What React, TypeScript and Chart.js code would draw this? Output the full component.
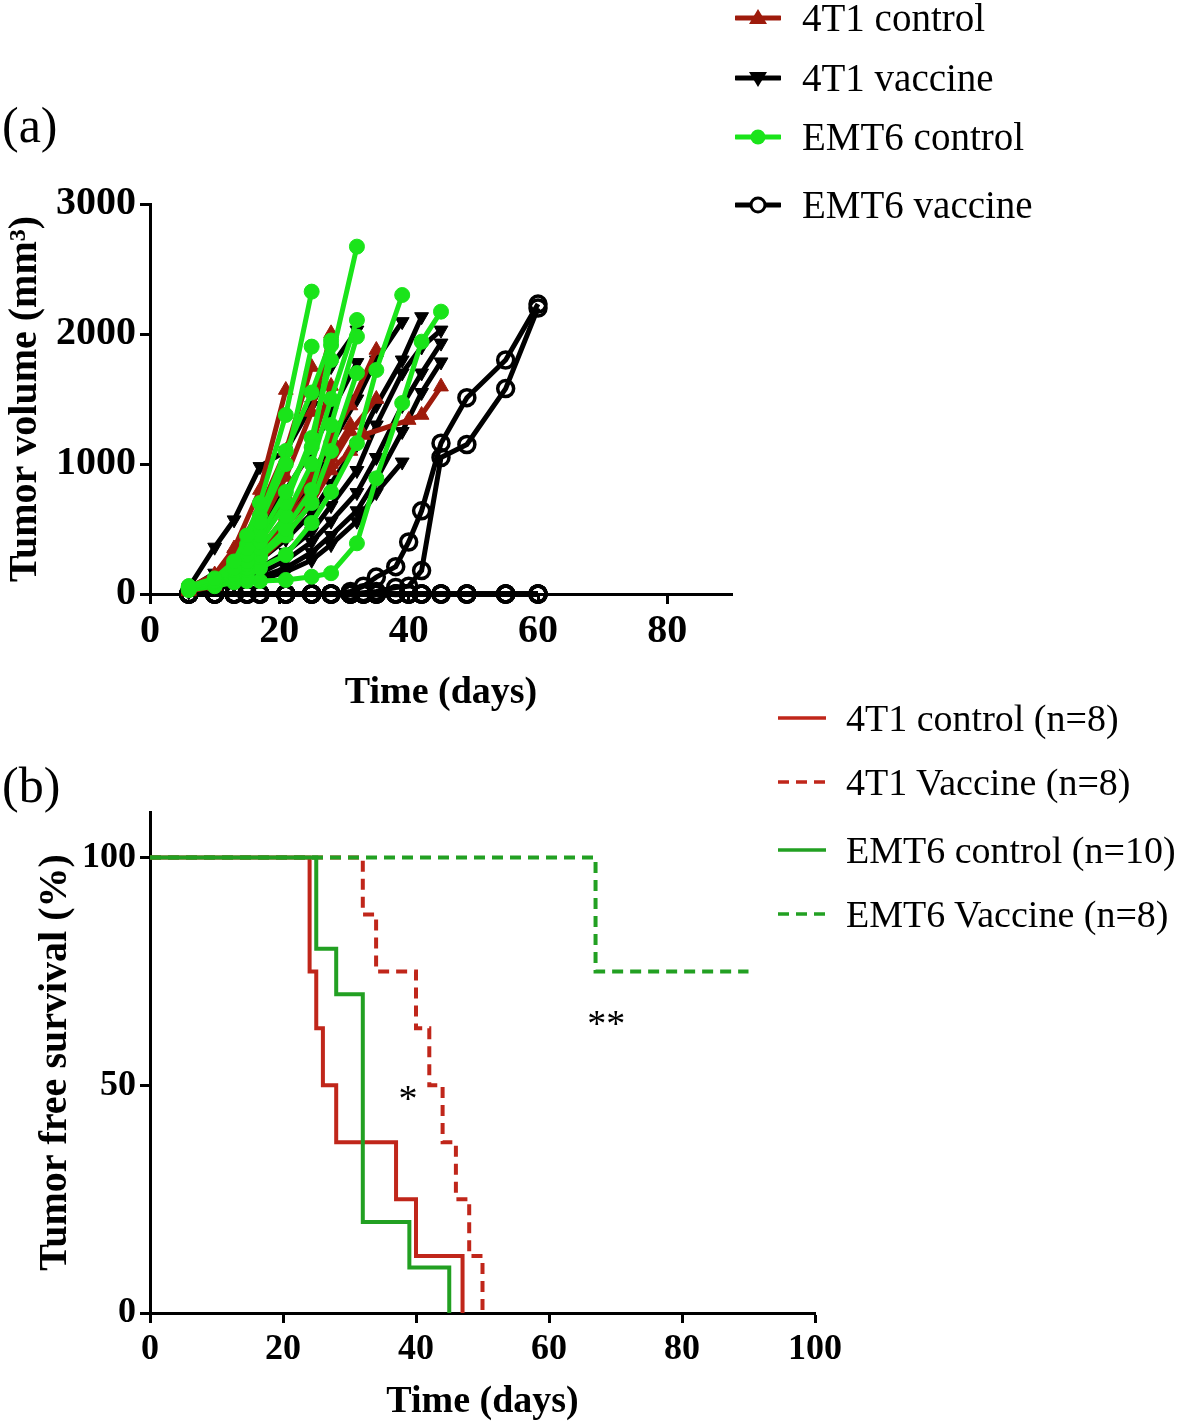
import React, { useEffect, useRef } from 'react';
import { Chart, registerables } from 'chart.js';

Chart.register(...registerables);

const FONT = '"Liberation Serif", "Times New Roman", Times, serif';

type Pt = [number, number];

// ---------- Panel (a): individual tumour growth curves (day, mm^3) ----------
const control4T1: Pt[][] = [
  [[6, 50], [10, 150], [13, 350], [17, 800], [21, 1569]],
  [[6, 40], [10, 130], [13, 300], [17, 650], [21, 1100], [25, 1746]],
  [[6, 40], [10, 110], [13, 250], [17, 520], [21, 900], [25, 1400], [28, 2005]],
  [[6, 30], [10, 90], [13, 200], [17, 420], [21, 750], [25, 1150], [28, 1600]],
  [[6, 30], [10, 80], [13, 180], [17, 350], [21, 600], [25, 900], [28, 1200], [31, 1450], [35, 1877]],
  [[6, 30], [10, 80], [13, 160], [17, 320], [21, 560], [25, 800], [28, 1050], [31, 1300]],
  [[6, 20], [10, 60], [13, 130], [17, 260], [21, 450], [25, 700], [28, 950], [31, 1100], [33, 1223], [40, 1338], [42, 1377], [45, 1595]],
  [[6, 20], [10, 70], [13, 150], [17, 300], [21, 520], [25, 750], [28, 1000], [31, 1250], [35, 1500]],
];

const vaccine4T1: Pt[][] = [
  [[6, 50], [10, 360], [13, 570], [17, 980], [21, 1100], [25, 1450], [28, 1750], [32, 2030]],
  [[6, 40], [10, 160], [13, 300], [17, 520], [21, 800], [25, 1100], [28, 1400], [32, 1780]],
  [[6, 30], [10, 100], [13, 200], [17, 350], [21, 560], [25, 850], [28, 1150], [32, 1500], [35, 1800], [39, 2095]],
  [[6, 30], [10, 80], [13, 150], [17, 260], [21, 420], [25, 620], [28, 850], [32, 1150], [35, 1450], [39, 1800], [42, 2133]],
  [[6, 20], [10, 60], [13, 120], [17, 200], [21, 320], [25, 480], [28, 680], [32, 950], [35, 1300], [39, 1700], [42, 1900], [45, 2030]],
  [[6, 20], [10, 50], [13, 100], [17, 160], [21, 260], [25, 400], [28, 560], [32, 780], [35, 1050], [39, 1450], [42, 1700], [45, 1930]],
  [[6, 20], [10, 40], [13, 80], [17, 130], [21, 200], [25, 320], [28, 450], [32, 640], [35, 880], [39, 1250], [42, 1550], [45, 1785]],
  [[6, 20], [10, 40], [13, 70], [17, 110], [21, 170], [25, 260], [28, 380], [32, 560], [35, 780], [39, 1015]],
];

const controlEMT6: Pt[][] = [
  [[6, 60], [10, 120], [13, 250], [15, 450], [17, 700], [21, 1377], [25, 2326]],
  [[6, 50], [10, 100], [13, 200], [15, 350], [17, 550], [21, 1000], [25, 1903]],
  [[6, 50], [10, 90], [13, 180], [15, 300], [17, 450], [21, 785], [25, 1130], [28, 1915]],
  [[6, 40], [10, 80], [13, 150], [15, 250], [17, 400], [21, 700], [25, 1200], [28, 1800], [32, 2672]],
  [[6, 40], [10, 80], [13, 140], [15, 230], [17, 350], [21, 600], [25, 1000], [28, 1500], [32, 2108]],
  [[6, 40], [10, 70], [13, 120], [15, 200], [17, 300], [21, 500], [25, 800], [28, 1300], [32, 1980]],
  [[6, 50], [10, 100], [13, 220], [15, 380], [17, 600], [21, 1100], [25, 1550], [28, 1950]],
  [[6, 40], [10, 70], [13, 110], [15, 180], [17, 280], [21, 450], [25, 700], [28, 1100], [32, 1700]],
  [[6, 30], [10, 60], [13, 90], [15, 130], [17, 200], [21, 300], [25, 546], [28, 785], [32, 1160], [35, 1723], [39, 2300]],
  [[6, 60], [10, 80], [13, 100], [15, 100], [17, 100], [21, 108], [25, 133], [28, 160], [32, 390], [35, 890], [39, 1469], [42, 1941], [45, 2172]],
];

const emt6VacDays = [6, 10, 13, 15, 17, 21, 25, 28, 31, 33, 35, 38, 40, 42, 45, 49, 55, 60];
const emt6VacZero = [0, 0, 0, 0, 0, 0, 0, 0, 0, 0, 0, 0, 0, 0, 0, 0, 0, 0];
const emt6VacGrowerA = [0, 0, 0, 0, 0, 0, 0, 0, 20, 60, 130, 210, 400, 640, 1160, 1510, 1800, 2230];
const emt6VacGrowerB = [0, 0, 0, 0, 0, 0, 0, 0, 0, 10, 20, 50, 60, 180, 1050, 1150, 1580, 2200];
const emt6VacSeries: number[][] = [
  emt6VacGrowerA, emt6VacGrowerB,
  emt6VacZero, emt6VacZero, emt6VacZero, emt6VacZero, emt6VacZero, emt6VacZero,
];

const xTicksA = [0, 20, 40, 60, 80];
const yTicksA = [0, 1000, 2000, 3000];

// ---------- Panel (b): Kaplan-Meier tumour free survival ----------
const kmDays4T1Control = [0, 24, 25, 26, 28, 37, 40, 47];
const kmSurv4T1Control = [100, 75, 62.5, 50, 37.5, 25, 12.5, 0];
const kmDays4T1Vaccine = [0, 32, 34, 40, 42, 44, 46, 48, 50];
const kmSurv4T1Vaccine = [100, 87.5, 75, 62.5, 50, 37.5, 25, 12.5, 0];
const kmDaysEMT6Control = [0, 25, 28, 32, 39, 45];
const kmSurvEMT6Control = [100, 80, 70, 20, 10, 0];
const kmDaysEMT6Vaccine = [0, 67, 90];
const kmSurvEMT6Vaccine = [100, 75, 75];

const starText = ['*', '**'];
const starDay = [38.8, 68.6];
const starSurv = [46.5, 63];

const xTicksB = [0, 20, 40, 60, 80, 100];
const yTicksB = [0, 50, 100];

const RED_A = '#9E1B0C';
const GREEN_A = '#1AE41A';
const RED_B = '#C0261A';
const GREEN_B = '#22A022';

const tickFontA = { family: FONT, size: 40, weight: 'bold' as const };
const tickFontB = { family: FONT, size: 36, weight: 'bold' as const };
const xTitleFont = { family: FONT, size: 38, weight: 'bold' as const };
const yTitleFont = { family: FONT, size: 40, weight: 'bold' as const };

function toXY(p: Pt[]) {
  return p.map(([x, y]) => ({ x, y }));
}

function axisCommon() {
  return {
    grid: { drawOnChartArea: false, drawTicks: true, tickLength: 10, tickWidth: 3, tickColor: '#000' },
    border: { display: true, width: 3, color: '#000' },
  };
}

const plainLabel = (v: any) => String(v);

const starPlugin = {
  id: 'stars',
  afterDatasetsDraw(chart: any) {
    const { ctx, scales } = chart;
    ctx.save();
    ctx.font = `38px ${FONT}`;
    ctx.fillStyle = '#000';
    ctx.textAlign = 'center';
    ctx.textBaseline = 'middle';
    starText.forEach((t, i) => {
      ctx.fillText(t, scales.x.getPixelForValue(starDay[i]), scales.y.getPixelForValue(starSurv[i]));
    });
    ctx.restore();
  },
};

function ChartA() {
  const ref = useRef<HTMLCanvasElement>(null);
  useEffect(() => {
    const lineBase = { tension: 0, borderWidth: 5, clip: false as const, pointBorderWidth: 1 };
    const datasets: any[] = [];
    controlEMT6.forEach((m) =>
      datasets.push({ ...lineBase, data: toXY(m), borderColor: GREEN_A, backgroundColor: GREEN_A, pointBackgroundColor: GREEN_A, pointBorderColor: GREEN_A, pointStyle: 'circle', pointRadius: 7.5 })
    );
    control4T1.forEach((m) =>
      datasets.push({ ...lineBase, data: toXY(m), borderColor: RED_A, backgroundColor: RED_A, pointBackgroundColor: RED_A, pointBorderColor: RED_A, pointStyle: 'triangle', pointRadius: 8.5 })
    );
    vaccine4T1.forEach((m) =>
      datasets.push({ ...lineBase, data: toXY(m), borderColor: '#000', backgroundColor: '#000', pointBackgroundColor: '#000', pointBorderColor: '#000', pointStyle: 'triangle', pointRotation: 180, pointRadius: 8 })
    );
    emt6VacSeries.forEach((vals) =>
      datasets.push({
        ...lineBase,
        data: emt6VacDays.map((d, i) => ({ x: d, y: vals[i] })),
        borderColor: '#000', backgroundColor: '#fff', pointBackgroundColor: 'rgba(255,255,255,0)', pointBorderColor: '#000',
        pointStyle: 'circle', pointRadius: 8, pointBorderWidth: 3.5,
      })
    );
    const chart = new Chart(ref.current!, {
      type: 'line',
      data: { datasets },
      options: {
        animation: false,
        responsive: false,
        maintainAspectRatio: false,
        layout: { padding: { top: 204, right: 28, left: 0, bottom: 0 } },
        plugins: { legend: { display: false }, tooltip: { enabled: false } },
        scales: {
          x: {
            type: 'linear', min: 0, max: 90,
            ...axisCommon(),
            afterBuildTicks: (s: any) => { s.ticks = xTicksA.map((v) => ({ value: v })); },
            ticks: { font: tickFontA, color: '#000', padding: 4, maxRotation: 0, callback: plainLabel },
            title: { display: true, text: 'Time (days)', font: xTitleFont, color: '#000', padding: 4 },
            afterFit: (s: any) => { s.height = 126; s.paddingLeft = 0; s.paddingRight = 0; },
          },
          y: {
            type: 'linear', min: 0, max: 3000,
            ...axisCommon(),
            afterBuildTicks: (s: any) => { s.ticks = yTicksA.map((v) => ({ value: v })); },
            ticks: { font: tickFontA, color: '#000', padding: 4, callback: plainLabel },
            title: { display: true, text: 'Tumor volume (mm³)', font: yTitleFont, color: '#000', padding: 2 },
            afterFit: (s: any) => { s.width = 150; s.paddingTop = 0; s.paddingBottom = 0; },
          },
        },
      } as any,
    });
    return () => chart.destroy();
  }, []);
  return <canvas ref={ref} width={760} height={720} style={{ position: 'absolute', left: 0, top: 0, width: 760, height: 720 }} />;
}

function ChartB() {
  const ref = useRef<HTMLCanvasElement>(null);
  useEffect(() => {
    const base = { stepped: 'before' as const, borderWidth: 4, pointRadius: 0, clip: false as const, fill: false };
    const mk = (days: number[], surv: number[]) => days.map((d, i) => ({ x: d, y: surv[i] }));
    const chart = new Chart(ref.current!, {
      type: 'line',
      data: {
        datasets: [
          { ...base, label: 'EMT6 control (n=10)', data: mk(kmDaysEMT6Control, kmSurvEMT6Control), borderColor: GREEN_B },
          { ...base, label: 'EMT6 Vaccine (n=8)', data: mk(kmDaysEMT6Vaccine, kmSurvEMT6Vaccine), borderColor: GREEN_B, borderDash: [11, 7] },
          { ...base, label: '4T1 control (n=8)', data: mk(kmDays4T1Control, kmSurv4T1Control), borderColor: RED_B },
          { ...base, label: '4T1 Vaccine (n=8)', data: mk(kmDays4T1Vaccine, kmSurv4T1Vaccine), borderColor: RED_B, borderDash: [11, 7] },
        ],
      },
      options: {
        animation: false,
        responsive: false,
        maintainAspectRatio: false,
        layout: { padding: { top: 112, right: 45, left: 30, bottom: 0 } },
        plugins: { legend: { display: false }, tooltip: { enabled: false } },
        scales: {
          x: {
            type: 'linear', min: 0, max: 100,
            ...axisCommon(),
            afterBuildTicks: (s: any) => { s.ticks = xTicksB.map((v) => ({ value: v })); },
            ticks: { font: tickFontB, color: '#000', padding: 5, maxRotation: 0, callback: plainLabel },
            title: { display: true, text: 'Time (days)', font: xTitleFont, color: '#000', padding: 2 },
            afterFit: (s: any) => { s.height = 114; s.paddingLeft = 0; s.paddingRight = 0; },
          },
          y: {
            type: 'linear', min: 0, max: 110,
            ...axisCommon(),
            afterBuildTicks: (s: any) => { s.ticks = yTicksB.map((v) => ({ value: v })); },
            ticks: { font: tickFontB, color: '#000', padding: 4, callback: plainLabel },
            title: { display: true, text: 'Tumor free survival (%)', font: yTitleFont, color: '#000', padding: 2 },
            afterFit: (s: any) => { s.width = 120; s.paddingTop = 0; s.paddingBottom = 0; },
          },
        },
      } as any,
      plugins: [starPlugin],
    });
    return () => chart.destroy();
  }, []);
  return <canvas ref={ref} width={860} height={727} style={{ position: 'absolute', left: 0, top: 700, width: 860, height: 727 }} />;
}

function Marker({ kind, color }: { kind: string; color: string }) {
  const cx = 23, cy = 12;
  let m: any = null;
  if (kind === 'up') m = <polygon points={`${cx},${cy - 9} ${cx - 9},${cy + 6} ${cx + 9},${cy + 6}`} fill={color} />;
  if (kind === 'down') m = <polygon points={`${cx},${cy + 9} ${cx - 9},${cy - 6} ${cx + 9},${cy - 6}`} fill={color} />;
  if (kind === 'dot') m = <circle cx={cx} cy={cy} r={7.5} fill={color} />;
  if (kind === 'ring') m = <circle cx={cx} cy={cy} r={7} fill="#fff" stroke={color} strokeWidth={3} />;
  return (
    <svg width={46} height={24} style={{ position: 'absolute', left: 0, top: -12 }}>
      <line x1={1} y1={cy} x2={45} y2={cy} stroke={color} strokeWidth={5} strokeLinecap="round" />
      {m}
    </svg>
  );
}

const legendA = [
  { label: '4T1 control', kind: 'up', color: RED_A, y: 18 },
  { label: '4T1 vaccine', kind: 'down', color: '#000', y: 78 },
  { label: 'EMT6 control', kind: 'dot', color: GREEN_A, y: 137 },
  { label: 'EMT6 vaccine', kind: 'ring', color: '#000', y: 205 },
];

const legendB = [
  { label: '4T1 control (n=8)', color: RED_B, dash: false, y: 718 },
  { label: '4T1 Vaccine (n=8)', color: RED_B, dash: true, y: 782 },
  { label: 'EMT6 control (n=10)', color: GREEN_B, dash: false, y: 850 },
  { label: 'EMT6 Vaccine (n=8)', color: GREEN_B, dash: true, y: 914 },
];

const textStyle: React.CSSProperties = {
  position: 'absolute', fontFamily: FONT, fontSize: 39, lineHeight: '46px', color: '#000', whiteSpace: 'nowrap',
};

export default function App() {
  return (
    <div style={{ position: 'absolute', left: 0, top: 0, width: 1181, height: 1427, background: '#fff', overflow: 'hidden' }}>
      <ChartA />
      <ChartB />
      <div style={{ ...textStyle, left: 2, top: 125 - 28, fontSize: 50, lineHeight: '56px' }}>(a)</div>
      <div style={{ ...textStyle, left: 2, top: 785 - 28, fontSize: 50, lineHeight: '56px' }}>(b)</div>
      {legendA.map((e) => (
        <div key={e.label}>
          <div style={{ position: 'absolute', left: 735, top: e.y }}>
            <Marker kind={e.kind} color={e.color} />
          </div>
          <div style={{ ...textStyle, left: 802, top: e.y - 23 }}>{e.label}</div>
        </div>
      ))}
      {legendB.map((e) => (
        <div key={e.label}>
          <svg width={50} height={10} style={{ position: 'absolute', left: 778, top: e.y - 5 }}>
            <line x1={0} y1={5} x2={48} y2={5} stroke={e.color} strokeWidth={3.5} strokeDasharray={e.dash ? '11 7' : undefined} />
          </svg>
          <div style={{ ...textStyle, left: 846, top: e.y - 23, fontSize: 38 }}>{e.label}</div>
        </div>
      ))}
    </div>
  );
}
